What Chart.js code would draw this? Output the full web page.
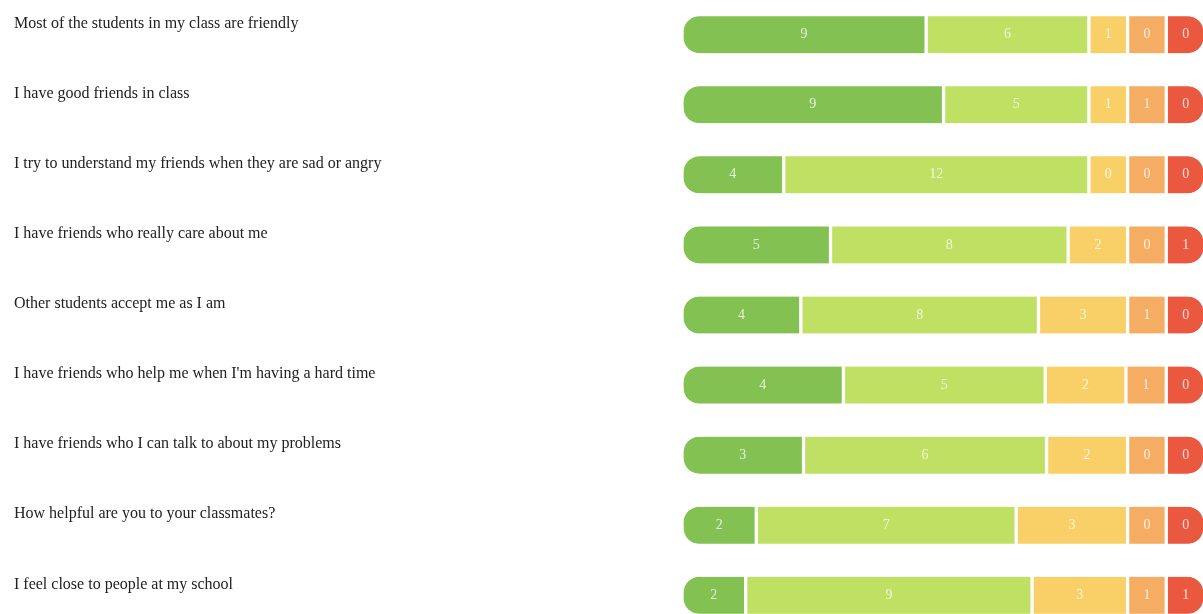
<!DOCTYPE html>
<html>
<head>
<meta charset="utf-8">
<script src="https://cdn.jsdelivr.net/npm/chart.js@4"></script>
<style>
  html, body { margin: 0; padding: 0; background: #fff; overflow: hidden; }
  #wrap { position: absolute; left: 0; top: -10px; width: 1205px; height: 650px; }
</style>
</head>
<body>
<div id="wrap"><canvas id="chart"></canvas></div>
<script>
// survey statements (rows, top to bottom)
const questions = [
    "Most of the students in my class are friendly",
    "I have good friends in class",
    "I try to understand my friends when they are sad or angry",
    "I have friends who really care about me",
    "Other students accept me as I am",
    "I have friends who help me when I'm having a hard time",
    "I have friends who I can talk to about my problems",
    "How helpful are you to your classmates?",
    "I feel close to people at my school"
];

// answer counts per response level, one value per statement
const level1 = [9, 9, 4, 5, 4, 4, 3, 2, 2];
const level2 = [6, 5, 12, 8, 8, 5, 6, 7, 9];
const level3 = [1, 1, 0, 2, 3, 2, 2, 3, 3];
const level4 = [0, 1, 0, 0, 1, 1, 0, 0, 1];
const level5 = [0, 0, 0, 1, 0, 0, 0, 0, 1];

const levels = [level1, level2, level3, level4, level5];
const colors = ['#82c152', '#bfe062', '#f8d067', '#f5ac63', '#e9583f'];

// each row fills the full width; tiny answers still get a minimum slot
function rowShares(vals) {
    const minPct = 7.4;
    const fixed = vals.map(() => false);
    let out = [];
    for (let k = 0; k < 6; k++) {
        const free = vals.reduce((a, v, i) => fixed[i] ? a : a + v, 0);
        const room = 100 - minPct * fixed.filter(Boolean).length;
        out = vals.map((v, i) => fixed[i] ? minPct : (free ? v / free * room : 0));
        let changed = false;
        out.forEach((p, i) => {
            if (!fixed[i] && p < minPct) { fixed[i] = true; changed = true; }
        });
        if (!changed) break;
    }
    return out;
}

const shares = questions.map((q, r) => rowShares(levels.map(l => l[r])));

const datasets = levels.map((lvl, k) => ({
    label: "Level " + (k + 1),
    data: shares.map(s => s[k]),
    counts: lvl,
    backgroundColor: colors[k],
    borderColor: '#ffffff',
    borderWidth: { left: 2, right: 2, top: 0, bottom: 0 },
    borderSkipped: false,
    borderRadius: k === 0 ? { topLeft: 18, bottomLeft: 18, topRight: 0, bottomRight: 0 }
        : k === 4 ? { topLeft: 0, bottomLeft: 0, topRight: 18, bottomRight: 18 } : 0,
    barThickness: 37
}));

// counts written in the middle of each segment
const countLabels = {
    id: 'countLabels',
    afterDatasetsDraw(chart) {
        const ctx = chart.ctx;
        ctx.save();
        ctx.font = '14px "Liberation Serif", serif';
        ctx.fillStyle = 'rgba(255,255,255,0.8)';
        ctx.textAlign = 'center';
        ctx.textBaseline = 'middle';
        chart.data.datasets.forEach((ds, i) => {
            chart.getDatasetMeta(i).data.forEach((bar, j) => {
                ctx.fillText(String(ds.counts[j]), (bar.x + bar.base) / 2, bar.y);
            });
        });
        ctx.restore();
    }
};

const contexto = document.getElementById("chart");
new Chart(contexto, {
    type: "bar",
    data: { labels: questions, datasets: datasets },
    plugins: [countLabels],
    options: {
        indexAxis: 'y',
        responsive: true,
        maintainAspectRatio: false,
        animation: false,
        layout: { padding: { left: 14, right: 0, top: 0, bottom: 0 } },
        plugins: {
            legend: { display: false },
            tooltip: { enabled: false }
        },
        scales: {
            x: { stacked: true, min: 0, max: 100, display: false },
            y: {
                stacked: true,
                grid: { display: false },
                border: { display: false },
                afterFit: (axis) => { axis.width = 668; },
                ticks: {
                    crossAlign: 'far',
                    padding: 0,
                    labelOffset: -11,
                    color: '#222',
                    font: { family: '"Liberation Serif", serif', size: 16 }
                }
            }
        }
    }
});
</script>
</body>
</html>
